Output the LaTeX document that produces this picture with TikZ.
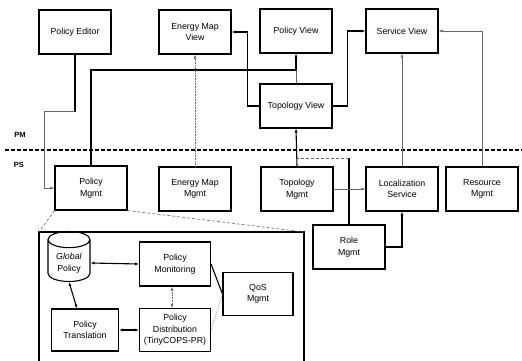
\documentclass[tikz,border=0pt]{standalone}
\usepackage{fontspec}
\setmainfont{Liberation Sans}
\usetikzlibrary{arrows.meta,shapes.geometric}

\tikzset{
  box/.style={draw, line width=1.1pt, minimum width=72pt, minimum height=44pt,
    align=center, inner sep=1pt, font=\fontsize{8.8}{11.5}\selectfont},
  thickline/.style={line width=1.1pt},
  thinline/.style={line width=0.6pt, black!60},
  arr/.style={-{Latex[length=4pt,width=3pt]}},
  darr/.style={{Latex[length=4pt,width=3pt]}-{Latex[length=4pt,width=3pt]}},
  layer/.style={font=\fontsize{7.5}{8}\selectfont\bfseries},
}

\begin{document}
\begin{tikzpicture}[x=1pt,y=-1pt]
  \useasboundingbox (0,0) rectangle (522,361);

  % PM side
  \foreach \name/\x/\y/\txt in {peditor/75/32/{Policy Editor},
      emview/195/32/{Energy Map\\View}, pview/296/31/{Policy View},
      sview/402/31/{Service View}, tview/296/106/{Topology View}}{
    \node[box] (\name) at (\x,\y) {\txt};
  }

  % PS side
  \foreach \name/\x/\y/\txt in {pmgmt/91/188/{Policy\\Mgmt},
      emmgmt/195/189/{Energy Map\\Mgmt}, tmgmt/297/189/{Topology\\Mgmt},
      lservice/402/189/{Localization\\Service}, rsmgmt/482/189/{Resource\\Mgmt},
      rmgmt/349/247/{Role\\Mgmt}}{
    \node[box] (\name) at (\x,\y) {\txt};
  }

  \draw[line width=1.1pt, dash pattern=on 4pt off 2pt] (5,150) -- (522,150);
  \node[layer] (pmlabel) at (20,135) {PM};
  \node[layer] (pslabel) at (19,165) {PS};

  % expansion of Policy Mgmt
  \coordinate (zoomL) at (39,232);
  \coordinate (zoomR) at (304,232);
  \draw[line width=1.1pt] (39,365) -- (zoomL) -- (zoomR) -- (304,365);
  \draw[thinline, densely dashed] (pmgmt.south west) -- (zoomL);
  \draw[thinline, densely dashed] (pmgmt.south east) -- (zoomR);

  \node[draw, cylinder, shape border rotate=90, aspect=0.5, minimum width=42pt,
    minimum height=50pt, line width=1.1pt, align=center,
    font=\fontsize{8.8}{11.5}\selectfont] (gpolicy) at (69,263) {\textit{Global}\\Policy};
  \node[box, minimum width=71pt] (pmon) at (175,264) {Policy\\Monitoring};
  \node[box, minimum width=70pt, minimum height=43pt] (qos) at (258,294) {QoS\\Mgmt};
  \node[box, minimum width=67pt, minimum height=42pt] (ptrans) at (85,330) {Policy\\Translation};
  \node[box, minimum width=71pt, minimum height=43pt] (pdist) at (175,330) {Policy\\Distribution\\(TinyCOPS-PR)};

  % connectors, upper part
  \draw[thickline] (peditor.south) -- ++(0,57) coordinate (edbend);
  \draw[thinline, arr] (edbend) -- ++(-31,0) |- (pmgmt.west);
  \coordinate (viewbus) at (0,70);
  \draw[thickline, arr] (pmgmt.north) |- (pview.south |- viewbus) -- (pview.south);
  \draw[thinline] (tview.north) -- (pview.south |- viewbus);
  \draw[thickline, arr] (tview.west) -- ++(-12,0) |- (emview.east);
  \draw[thickline, arr] (tview.east) -- ++(15,0) |- (sview.west);
  \draw[thinline, densely dotted, arr] (emmgmt.north) -- (emview.south);
  \draw[thickline, arr] (tmgmt.north) -- (tview.south);
  \draw[thickline] (rmgmt.north) -- ++(0,-66) coordinate (rolebend);
  \draw[thinline, densely dashed] (rolebend) -- (rolebend -| tmgmt.north);
  \draw[thinline, arr] (tmgmt.east) -- (lservice.west);
  \draw[thickline, arr] (rmgmt.east) -| (lservice.south);
  \draw[thinline, arr] (lservice.north) -- (sview.south);
  \draw[thinline, arr] (rsmgmt.north) |- (sview.east);

  % connectors, inside Policy Mgmt
  \draw[thickline, darr] (gpolicy.east) -- (pmon.west);
  \draw[thickline, darr] (gpolicy.south) -- ([xshift=-8pt]ptrans.north);
  \draw[thickline, darr] (ptrans.east) -- (pdist.west);
  \draw[thinline, densely dotted, darr] ([xshift=-3pt]pmon.south) -- ([xshift=-3pt]pdist.north);
  \draw[thickline] (pmon.east) -- (qos.west);
  \draw[thinline, densely dotted] (pdist.east) -- (qos.west);
\end{tikzpicture}
\end{document}
